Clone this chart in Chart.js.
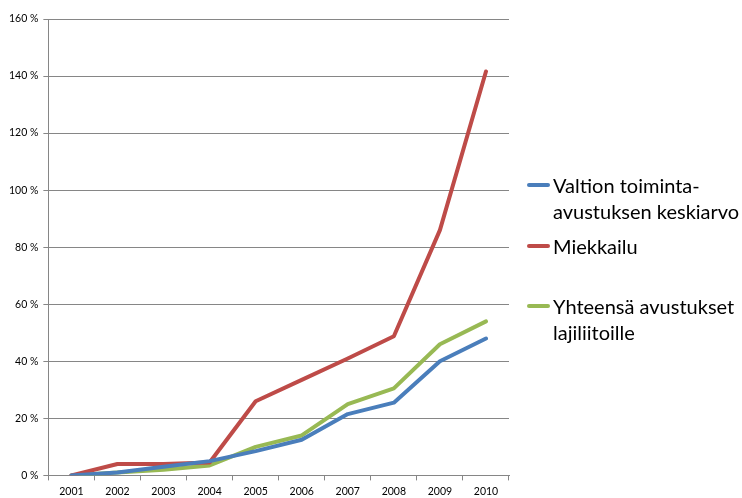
<!DOCTYPE html>
<html>
<head>
<meta charset="utf-8">
<script src="https://cdn.jsdelivr.net/npm/chart.js@4"></script>
<style>
  html, body { margin: 0; padding: 0; background: #fff; }
  #wrap { position: relative; width: 742px; height: 498px; overflow: hidden; }
  #legend { position: absolute; left: 0; top: 0; font-family: Lato, "Open Sans", sans-serif; font-size: 20px; color: #000; }
  .item { position: absolute; left: 527px; width: 215px; line-height: 26px; }
  .item .swatch { position: absolute; left: 0; top: 11px; width: 23px; height: 4px; border-radius: 2px; }
  .item .txt { margin-left: 26px; white-space: nowrap; }
</style>
</head>
<body>
<div id="wrap">
  <canvas id="chart" width="742" height="503"></canvas>
  <div id="legend"></div>
</div>
<script>
// years on the x axis
const years = ['2001', '2002', '2003', '2004', '2005', '2006', '2007', '2008', '2009', '2010'];

// cumulative growth, percent
const valtionKeskiarvo = [0, 1, 3, 5, 8.5, 12.5, 21.5, 25.5, 40, 48];
const miekkailu = [0, 4, 4, 4.5, 26, 33.5, 41, 48.8, 86, 141.6];
const yhteensa = [0, 1, 2, 3.5, 10, 14, 25, 30.5, 46, 54];

const seriesNames = [['Valtion toiminta-', 'avustuksen keskiarvo'], ['Miekkailu'], ['Yhteensä avustukset', 'lajiliitoille']];
const seriesColors = ['#4A7EBB', '#BE4B48', '#98B954'];
const legendTops = [172, 233, 293];

const ctx = document.getElementById('chart').getContext('2d');
const chart = new Chart(ctx, {
    type: 'line',
    data: {
        labels: years,
        datasets: [valtionKeskiarvo, miekkailu, yhteensa].map((vals, i) => ({
            label: seriesNames[i].join(' '),
            data: vals,
            borderColor: seriesColors[i],
            backgroundColor: seriesColors[i],
            borderWidth: 4,
            pointRadius: 0,
            tension: 0,
            borderCapStyle: 'round',
            borderJoinStyle: 'round'
        }))
    },
    options: {
        responsive: false,
        animation: false,
        layout: { padding: { left: 4, right: 233, top: 19, bottom: 0 } },
        plugins: { legend: { display: false }, tooltip: { enabled: false } },
        scales: {
            x: {
                offset: true,
                grid: { offset: true, drawOnChartArea: false, drawTicks: true, tickLength: 5, color: '#868686' },
                border: { color: '#868686' },
                ticks: { color: '#000', font: { family: 'Lato', size: 10.5 }, padding: 5, maxRotation: 0 }
            },
            y: {
                min: 0,
                max: 160,
                grid: { color: '#868686', tickLength: 5 },
                border: { color: '#868686' },
                ticks: {
                    stepSize: 20,
                    color: '#000',
                    font: { family: 'Lato', size: 10.5 },
                    padding: 5,
                    callback: v => v + ' %'
                }
            }
        }
    }
});

// legend drawn beside the canvas
const legendEl = document.getElementById('legend');
seriesNames.forEach((lines, i) => {
    const item = document.createElement('div');
    item.className = 'item';
    item.style.top = legendTops[i] + 'px';
    item.innerHTML = '<div class="swatch" style="background:' + seriesColors[i] + '"></div>' +
        '<div class="txt">' + lines.join('<br>') + '</div>';
    legendEl.appendChild(item);
});
</script>
</body>
</html>
